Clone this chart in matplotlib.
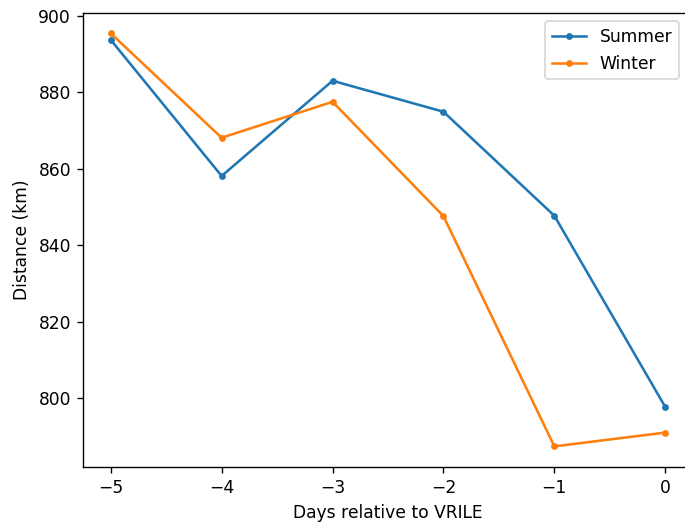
import matplotlib
matplotlib.use("Agg")
import matplotlib.pyplot as plt

days = [-5, -4, -3, -2, -1, 0]
summer = [893.7, 858.1, 883.0, 874.9, 847.7, 797.7]
winter = [895.4, 868.1, 877.5, 847.6, 787.4, 791.0]

DPI = 123
W, H = 685, 523
fig = plt.figure(figsize=(W / DPI, H / DPI), dpi=DPI)
ax = fig.add_axes([83 / W, 56 / H, 610 / W, 454.3 / H])

ax.plot(days, summer, marker=".", label="Summer")
ax.plot(days, winter, marker=".", label="Winter")

ax.set_xlabel("Days relative to VRILE")
ax.set_ylabel("Distance (km)")
ax.legend(loc="upper right", bbox_to_anchor=(604.5 / 610, 1.0))

fig.savefig("out.png", dpi=DPI)
